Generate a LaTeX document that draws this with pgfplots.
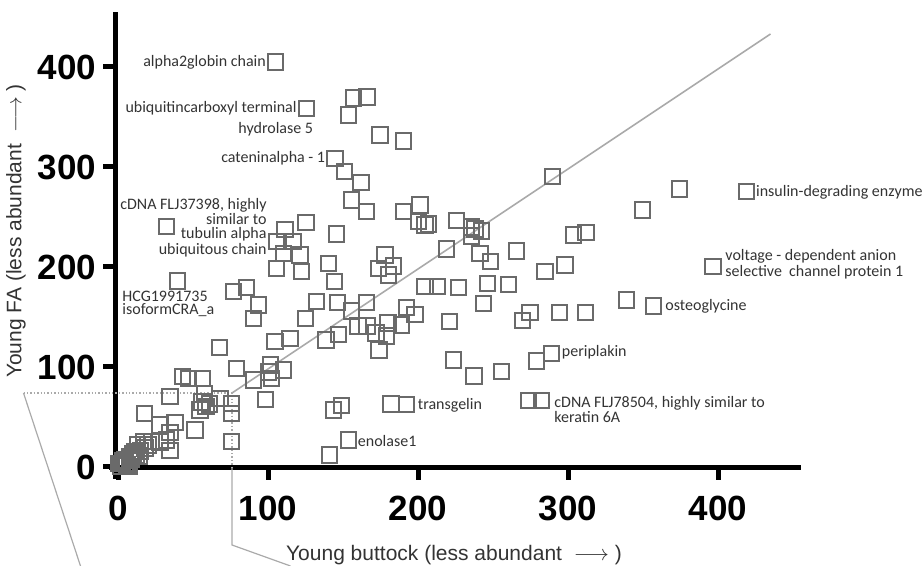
\documentclass[border=0pt]{standalone}
\usepackage{pgfplots}
\pgfplotsset{compat=1.18}
\usepackage{fontspec}
\setmainfont{Liberation Sans}
\newfontfamily\cali{Carlito}
\definecolor{mk}{HTML}{6A6A6A}
\definecolor{lbl}{HTML}{333333}
\definecolor{ln}{HTML}{AAAAAA}
\begin{document}
\begin{tikzpicture}
\begin{axis}[
  x=0.75pt, y=0.5pt,
  xmin=-2, xmax=455, ymin=-1, ymax=455,
  axis lines=left,
  axis line style={line width=2.5pt, -},
  clip=false,
  xtick={0,100,200,300,400}, ytick={0,100,200,300,400},
  tick align=outside,
  major tick length=6pt,
  tick style={line width=2.5pt, black},
  ticklabel style={font=\fontsize{17.5}{20}\selectfont\bfseries},
  xticklabel style={yshift=-4.5pt},
  /pgf/number format/assume math mode=true,
]
% zoom callout lines
\draw[densely dotted, ln, line width=0.7pt] (axis cs:-63,74) -- (axis cs:76,74) -- (axis cs:76,-1);
\draw[ln, line width=0.6pt] (axis cs:76,-1) -- (axis cs:76,-78) -- (axis cs:115,-99);
\draw[ln, line width=0.6pt] (axis cs:-63,74) -- (axis cs:-25,-99);
% diagonal
\addplot[ln, line width=0.8pt] coordinates {(76,74) (435,433)};
% axis overhangs
\draw[line width=2.5pt] (axis cs:-6,-1) -- (axis cs:-2,-1);
\draw[line width=2.5pt] (axis cs:-2,-1) -- (axis cs:-2,-12);
% data
\addplot[only marks, mark=square, mark size=3.8pt, mark options={line width=1pt, draw=mk}] coordinates {
(105,405) (157,369) (166,370) (153.5,352) (125.8,358.7) (174.7,332) (190.2,326)
(144.7,308.7) (150.9,295.3) (162,284.7) (155.8,267) (165.8,255.3) (190.2,255.3)
(201.3,262) (200.2,245.3) (204.7,242) (32.4,240.3) (111.3,237.7) (125.3,244.3)
(145.8,233) (105.8,225.3) (116.9,225.3) (110.2,213.7) (121.3,212) (105.8,198.7)
(122.4,195.3) (140.2,203.7) (144.2,185.3) (178,212) (183.6,201) (173.6,198.7)
(180.2,192) (204.7,180.3) (212.9,180.3) (226.9,179.3) (246.4,183.7) (260.2,182.7)
(39.6,186) (76.9,175.3) (85.8,179.3) (93.6,162) (90.2,148.7) (132.4,165.3)
(125.1,148.7) (146.4,164.3) (155.8,156) (165.8,164.3) (192.4,159.5) (198,152.5)
(160,141) (166,141) (172,134) (180,144) (179,131) (189,142) (174,117)
(146.9,132.7) (138.7,127) (114.7,128.7) (104.7,125.3) (67.6,119.7) (79.1,98.7)
(101.8,102) (110.2,97) (100.4,95) (102.4,88.7) (90.2,87) (98.4,67.7)
(43.1,90.3) (46.9,88.7) (56.4,88.7) (34.7,70.3) (57.6,73.7) (68,68.7)
(75.8,63.7) (75.8,53.7) (75.8,25.3) (54.7,57) (58.7,60.3) (61,63) (56,65)
(51.3,37) (17.6,53.7) (28,42) (38,44.5) (34.7,34.5) (34.7,16.5) (32.4,27)
(28,25) (22.4,25.3) (16.9,25.3) (13,22) (11.3,15.3) (8,10) (4.7,7) (0.5,3.7)
(7.6,0.5) (2,1) (5,4) (9,8) (12,12) (15,16) (18,19) (20,22) (3,6) (6,2) (10,13) (14,11)
(143.6,57) (149.1,61.3) (140.9,12) (153.5,27) (182,63) (192.4,62.5)
(289.8,290.3) (374.2,278) (349.8,257) (206.9,243) (225.8,246.5) (235.8,240)
(242.4,236) (238,238) (235.8,231) (303.6,232) (312,234.3) (219.1,218)
(265.8,216) (241.3,213.5) (248.2,205.3) (284.7,195.3) (298,202)
(220.9,145.5) (269.8,146.3) (274.7,154.7) (294.2,154.7) (311.8,154.7)
(339.1,167) (357.1,161) (396.7,200.3) (243.4,163.7) (223.6,107) (237.3,91)
(255.8,95.3) (279.1,106) (289.1,113.7) (273.6,66.3) (282.4,66.3) (419.1,275.3)
};
% annotations
\begin{scope}[every node/.style={font=\cali\fontsize{8}{6.8}\selectfont, text=lbl, inner sep=0.5pt}]
\node[anchor=east] at (axis cs:99.5,405) {alpha2globin chain};
\node[anchor=east] at (axis cs:120,359) {ubiquitincarboxyl terminal};
\node[anchor=east] at (axis cs:131,338) {hydrolase 5};
\node[anchor=east] at (axis cs:139,309) {cateninalpha - 1};
\node[anchor=north east, align=right] at (axis cs:100,270.5) {cDNA FLJ37398, highly\\similar to\hspace{16pt}\\tubulin alpha\\ubiquitous chain};
\node[anchor=west, align=left] at (axis cs:2,163) {HCG1991735\\isoformCRA\_a};
\node[anchor=west] at (axis cs:159,26) {enolase1};
\node[anchor=west] at (axis cs:199,62) {transgelin};
\node[anchor=north west, align=left] at (axis cs:290,72.5) {cDNA FLJ78504, highly similar to\\keratin 6A};
\node[anchor=west] at (axis cs:295,115) {periplakin};
\node[anchor=west] at (axis cs:364,161) {osteoglycine};
\node[anchor=west, align=left] at (axis cs:404,203) {voltage - dependent anion\\selective\ \ channel protein 1};
\node[anchor=west] at (axis cs:424.5,275) {insulin-degrading enzyme};
\end{scope}
% axis labels
\node[font=\fontsize{10.5}{12}\selectfont, text=lbl] at (axis cs:224,-88) {Young buttock (less abundant\ \ $\longrightarrow$\ )};
\node[font=\fontsize{10.5}{12}\selectfont, text=lbl, rotate=90] at (axis cs:-68,236) {Young FA (less abundant\ \ $\longrightarrow$\ )};
\coordinate (BL) at (axis cs:-78.67,-99);
\coordinate (TR) at (axis cs:537.33,467);
\end{axis}
\pgfresetboundingbox
\useasboundingbox (BL) rectangle (TR);
\end{tikzpicture}
\end{document}
